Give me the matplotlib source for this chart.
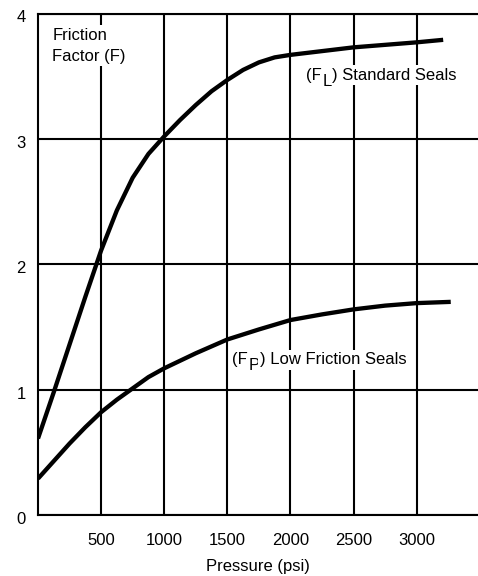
import matplotlib
matplotlib.use("Agg")
import matplotlib.pyplot as plt
import matplotlib.transforms as mtransforms

plt.rcParams['font.family'] = ['Liberation Sans', 'DejaVu Sans']

# Data
pressure_std = [0, 125, 250, 375, 500, 625, 750, 875, 1000, 1125, 1250, 1375, 1500,
                1625, 1750, 1875, 2000, 2250, 2500, 2750, 3000, 3210]
factor_std = [0.61, 0.98, 1.36, 1.74, 2.11, 2.43, 2.69, 2.88, 3.02, 3.15, 3.27, 3.38, 3.47,
              3.55, 3.61, 3.65, 3.67, 3.70, 3.73, 3.75, 3.77, 3.79]

pressure_low = [0, 125, 250, 375, 500, 625, 750, 875, 1000, 1250, 1500, 1750, 2000,
                2250, 2500, 2750, 3000, 3270]
factor_low = [0.29, 0.43, 0.57, 0.70, 0.82, 0.92, 1.01, 1.10, 1.17, 1.29, 1.40, 1.48, 1.555,
              1.60, 1.64, 1.67, 1.69, 1.70]

x_ticks = [500, 1000, 1500, 2000, 2500, 3000]
x_tick_labels = ['500', '1000', '1500', '2000', '2500', '3000']
y_ticks = [0, 1, 2, 3, 4]
y_tick_labels = ['0', '1', '2', '3', '4']

FS = 12
LW_GRID = 1.5

fig = plt.figure(figsize=(4.78, 5.76), dpi=100)
ax = fig.add_axes([38 / 478, (576 - 515) / 576, 1 - 38 / 478, (515 - 13.5) / 576])

ax.set_xlim(0, 3486)
ax.set_ylim(0, 4)

for px, fy in [(pressure_std, factor_std), (pressure_low, factor_low)]:
    ax.plot(px, fy, color='black', lw=3.1, solid_capstyle='butt',
            solid_joinstyle='round', zorder=5)

ax.set_xticks(x_ticks)
ax.set_xticklabels(x_tick_labels)
ax.set_yticks(y_ticks)
ax.set_yticklabels(y_tick_labels)
ax.tick_params(axis='both', length=0, labelsize=FS, colors='black')
ax.tick_params(axis='x', pad=13)
ax.tick_params(axis='y', pad=9)

# shift y tick labels slightly downward as in the reference
shift = mtransforms.ScaledTranslation(0, -3 / 100, fig.dpi_scale_trans)
for lbl in ax.get_yticklabels():
    lbl.set_transform(lbl.get_transform() + shift)

ax.grid(True, color='black', lw=LW_GRID, zorder=1)
ax.set_axisbelow(True)
for side in ['left', 'top', 'bottom']:
    ax.spines[side].set_linewidth(LW_GRID)
ax.spines['right'].set_visible(False)

ax.set_xlabel('Pressure (psi)', fontsize=FS, labelpad=8)

box = dict(facecolor='white', edgecolor='none', boxstyle='square,pad=0.15')

ax.text(113, 3.885, 'Friction\nFactor (F)', fontsize=FS, ha='left', va='top',
        linespacing=1.5, bbox=box, zorder=3)


def sub_label(x, y, main, sub, rest):
    t1 = ax.text(x, y, main, fontsize=FS, ha='left', va='baseline', bbox=box, zorder=3)
    t2 = ax.annotate(sub, xy=(1, 0), xycoords=t1, xytext=(0.3, -2.0),
                     textcoords='offset points', fontsize=FS, ha='left',
                     va='baseline', bbox=box, zorder=3)
    ax.annotate(rest, xy=(1, 0), xycoords=(t2, t1), xytext=(0.3, 0),
                textcoords='offset points', fontsize=FS, ha='left',
                va='bottom', bbox=box, zorder=3)


sub_label(2124, 3.47, '(F', 'L', ') Standard Seals')
sub_label(1540, 1.204, '(F', 'P', ') Low Friction Seals')

fig.savefig('out.png', dpi=100)
